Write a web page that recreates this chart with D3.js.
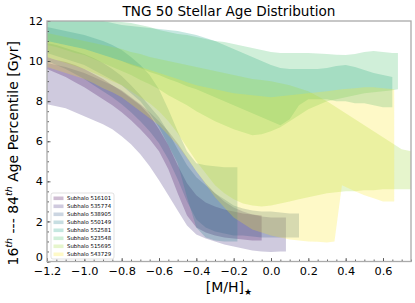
<!DOCTYPE html>
<html>
<head>
<meta charset="utf-8">
<script src="https://cdn.jsdelivr.net/npm/d3@7"></script>
<style>
body { margin: 0; background: #fff; }
svg { font-family: "DejaVu Sans", sans-serif; }
</style>
</head>
<body>
<div id="chart"></div>
<script>
// subhalo ids, in legend order
var subhalos = ["516101", "535774", "538905", "550149", "552581", "523548", "515695", "543729"];

// [M/H] bin centres for every subhalo
var mhBins = [
  [-1.2,-1.15,-1.1,-1.05,-1.0,-0.95,-0.9,-0.85,-0.8,-0.75,-0.7,-0.65,-0.6,-0.55,-0.5,-0.45,-0.4,-0.35,-0.3,-0.25,-0.2,-0.15,-0.1,-0.05],
  [-1.2,-1.15,-1.1,-1.05,-1.0,-0.95,-0.9,-0.85,-0.8,-0.75,-0.7,-0.65,-0.6,-0.55,-0.5,-0.45,-0.4,-0.35,-0.3,-0.25,-0.2,-0.15,-0.1,-0.05,0,0.05,0.08],
  [-1.2,-1.15,-1.1,-1.05,-1.0,-0.95,-0.9,-0.85,-0.8,-0.75,-0.7,-0.65,-0.6,-0.55,-0.5,-0.45,-0.4,-0.35,-0.3,-0.25,-0.2,-0.15,-0.1,-0.05,0,0.05,0.1,0.15],
  [-1.2,-1.15,-1.1,-1.05,-1.0,-0.95,-0.9,-0.85,-0.8,-0.75,-0.7,-0.65,-0.6,-0.55,-0.5,-0.45,-0.4,-0.35,-0.3,-0.25,-0.2,-0.18],
  [-1.2,-1.15,-1.1,-1.05,-1.0,-0.95,-0.9,-0.85,-0.8,-0.75,-0.7,-0.65,-0.6,-0.55,-0.5,-0.45,-0.4,-0.35,-0.3,-0.25,-0.2,-0.15,-0.1,-0.05,0,0.05,0.1,0.15,0.2,0.25,0.3,0.35,0.4,0.45,0.5,0.55,0.6,0.65],
  [-1.2,-1.15,-1.1,-1.05,-1.0,-0.95,-0.9,-0.85,-0.8,-0.75,-0.7,-0.65,-0.6,-0.55,-0.5,-0.45,-0.4,-0.35,-0.3,-0.25,-0.2,-0.15,-0.1,-0.05,0,0.05,0.1,0.15,0.2,0.25,0.3,0.35,0.4,0.45,0.5,0.55,0.6,0.65,0.68],
  [-1.2,-1.15,-1.1,-1.05,-1.0,-0.95,-0.9,-0.85,-0.8,-0.75,-0.7,-0.65,-0.6,-0.55,-0.5,-0.45,-0.4,-0.35,-0.3,-0.25,-0.2,-0.15,-0.1,-0.05,0,0.05,0.1,0.15,0.2,0.25,0.3,0.35,0.4,0.45,0.5,0.55,0.6,0.65,0.7,0.75],
  [-1.2,-1.15,-1.1,-1.05,-1.0,-0.95,-0.9,-0.85,-0.8,-0.75,-0.7,-0.65,-0.6,-0.55,-0.5,-0.45,-0.4,-0.35,-0.3,-0.25,-0.2,-0.15,-0.1,-0.05,0,0.05,0.1,0.15,0.2,0.25,0.3,0.34,0.38,0.45,0.5,0.55,0.6,0.66]
];

// 16th percentile age [Gyr]
var age16 = [
  [9.6,9.4,9.2,8.95,8.7,8.4,8.1,7.8,7.45,7.05,6.6,6.1,5.5,4.6,3.4,2.3,1.7,1.45,1.3,1.2,1.15,1.1,1.05,1.05],
  [7.85,7.75,7.65,7.45,7.25,7.05,6.85,6.6,6.25,5.85,5.35,4.75,4.05,3.3,2.55,1.8,1.35,1.15,1.0,0.85,0.75,0.65,0.55,0.5,0.48,0.5,0.5],
  [10.0,9.8,9.6,9.35,9.1,8.8,8.5,8.2,7.85,7.45,7.0,6.5,5.9,5.1,4.1,3.0,2.1,1.7,1.5,1.4,1.3,1.3,1.25,1.2,1.2,1.2,1.2,1.2],
  [10.4,10.25,10.1,9.95,9.8,9.55,9.3,9.05,8.8,8.4,8.0,7.4,6.7,5.8,4.9,3.2,1.7,1.2,1.05,1.0,1.0,1.0],
  [11.0,10.9,10.8,10.7,10.6,10.45,10.3,10.15,10.0,9.8,9.65,9.45,9.3,9.1,8.95,8.75,8.6,8.4,8.2,8.0,7.8,7.6,7.4,7.2,7.0,6.8,7.1,7.8,8.1,8.1,8.1,8.0,8.0,7.9,7.9,7.8,7.7,7.7],
  [10.8,10.7,10.55,10.4,10.3,10.1,9.9,9.7,9.5,9.3,9.05,8.85,8.6,8.3,8.05,7.8,7.5,7.25,7.0,6.8,6.6,6.45,6.3,6.35,6.5,6.7,7.0,7.3,7.6,7.8,8.0,8.1,8.2,8.3,8.4,8.45,8.5,8.55,8.6],
  [10.2,10.05,9.9,9.75,9.6,9.4,9.2,9.0,8.8,8.5,8.2,7.9,7.5,7.0,6.4,5.7,5.0,4.4,3.8,3.4,3.1,2.9,2.8,2.75,2.8,2.9,3.0,3.1,3.2,3.3,3.4,3.45,3.5,3.5,3.55,3.55,3.6,3.6,3.6,3.6],
  [9.7,9.55,9.4,9.25,9.1,8.9,8.65,8.45,8.2,7.85,7.5,7.15,6.8,6.3,5.8,5.15,4.5,3.85,3.2,2.7,2.2,1.9,1.6,1.45,1.3,1.2,1.1,1.05,1.0,0.98,0.95,1.0,3.8,3.5,3.3,3.15,3.0,3.0]
];

// 84th percentile age [Gyr]
var age84 = [
  [10.2,10.05,9.95,9.8,9.6,9.35,9.1,8.8,8.5,8.15,7.8,7.3,6.6,5.8,4.8,3.9,3.3,2.95,2.75,2.6,2.5,2.4,2.35,2.3],
  [9.9,9.8,9.7,9.55,9.4,9.2,9.0,8.8,8.55,8.2,7.85,7.45,7.0,6.5,5.9,5.2,4.5,3.9,3.4,3.0,2.7,2.5,2.35,2.25,2.2,2.2,2.2],
  [10.9,10.8,10.65,10.5,10.35,10.15,9.9,9.6,9.25,8.8,8.3,7.75,7.2,6.45,5.6,4.8,4.2,3.8,3.4,3.1,2.8,2.65,2.55,2.5,2.5,2.45,2.4,2.4],
  [11.7,11.6,11.5,11.4,11.3,11.15,11.0,10.8,10.55,10.2,9.8,9.3,8.6,7.6,6.5,5.5,4.9,4.8,4.75,4.7,4.7,4.7],
  [12,12,12,12,12,12,12,11.9,11.8,11.75,11.7,11.65,11.6,11.55,11.5,11.4,11.3,11.15,11.0,10.8,10.6,10.4,10.2,10.0,9.8,9.65,9.6,9.6,9.6,9.6,9.65,9.75,9.8,9.7,9.55,9.4,9.3,9.2],
  [12,12,12,12,12,12,12,12,11.95,11.9,11.8,11.7,11.55,11.45,11.35,11.3,11.2,11.1,11.0,10.95,10.85,10.75,10.65,10.55,10.45,10.4,10.4,10.4,10.4,10.38,10.35,10.32,10.3,10.35,10.45,10.5,10.45,10.4,10.4],
  [11.4,11.3,11.2,11.1,11.0,10.9,10.8,10.7,10.6,10.45,10.35,10.2,10.1,10.0,9.9,9.8,9.7,9.6,9.5,9.4,9.3,9.2,9.1,9.05,9.0,8.9,8.8,8.65,8.5,8.25,8.0,7.7,7.4,7.1,6.8,6.5,6.2,5.9,5.6,5.5],
  [11.0,10.9,10.8,10.7,10.6,10.45,10.3,10.15,10.0,9.85,9.7,9.55,9.4,9.25,9.1,8.95,8.8,8.7,8.6,8.5,8.4,8.35,8.3,8.25,8.2,8.25,8.3,8.35,8.4,8.45,8.5,8.55,8.6,8.65,8.7,8.7,8.65,8.6]
];

var xTicks = [-1.2, -1.0, -0.8, -0.6, -0.4, -0.2, 0.0, 0.2, 0.4, 0.6];
var yTicks = [0, 2, 4, 6, 8, 10, 12];

var W = 415, H = 303;
var margin = {top: 21, right: 4, bottom: 41.5, left: 47},
    width = W - margin.left - margin.right,
    height = H - margin.top - margin.bottom;

var svg = d3.select("#chart")
    .append("svg")
        .attr("width", W)
        .attr("height", H);

var g = svg.append("g")
    .attr("transform", "translate(" + margin.left + "," + margin.top + ")");

var x = d3.scaleLinear()
    .domain([-1.2, 0.75])
    .range([0, width]);
var y = d3.scaleLinear()
    .domain([0, 12])
    .range([height, 0]);

var color = function(i) { return d3.interpolateViridis(i / (subhalos.length - 1)); };
var alpha = 0.26;

g.append("clipPath").attr("id", "clip")
    .append("rect").attr("width", width).attr("height", height);

// bands
var area = d3.area()
    .x(function(d) { return x(d[0]); })
    .y0(function(d) { return y(d[1]); })
    .y1(function(d) { return y(d[2]); });

var bands = g.append("g").attr("clip-path", "url(#clip)");
subhalos.forEach(function(id, i) {
    var rows = mhBins[i].map(function(m, k) { return [m, age16[i][k], age84[i][k]]; });
    bands.append("path")
        .datum(rows)
        .attr("d", area)
        .attr("fill", color(i))
        .attr("fill-opacity", alpha)
        .attr("stroke", "none");
});

// axes, ticks pointing inward
var xAxis = g.append("g")
    .attr("transform", "translate(0," + height + ")")
    .call(d3.axisBottom(x).tickValues(xTicks).tickFormat(d3.format(".1f")).tickSize(-3.5).tickPadding(5));
var xMinor = g.append("g")
    .attr("transform", "translate(0," + height + ")")
    .call(d3.axisBottom(x).tickValues(d3.range(-1.2, 0.76, 0.05)).tickFormat("").tickSize(-2));
var yAxis = g.append("g")
    .call(d3.axisLeft(y).tickValues(yTicks).tickSize(-3.5).tickPadding(4));
var yMinor = g.append("g")
    .call(d3.axisLeft(y).tickValues(d3.range(0, 12.01, 0.5)).tickFormat("").tickSize(-2));

[xAxis, xMinor, yAxis, yMinor].forEach(function(a) {
    a.select(".domain").remove();
    a.selectAll("line").attr("stroke", "#444").attr("stroke-width", 0.8);
    a.selectAll("text").attr("font-family", "DejaVu Sans").attr("font-size", 11.3).attr("fill", "#000");
});
// the y "0" sits just above the first x label, as in the original
yAxis.selectAll(".tick text").filter(function(d) { return d === 0; }).attr("dy", "-0.05em");

// frame
g.append("rect")
    .attr("width", width)
    .attr("height", height)
    .attr("fill", "none")
    .attr("stroke", "#aaa")
    .attr("stroke-width", 1.3);

// title
svg.append("text")
    .attr("x", margin.left + width / 2)
    .attr("y", 16)
    .attr("text-anchor", "middle")
    .attr("font-size", 13.6)
    .text("TNG 50 Stellar Age Distribution");

// x label
var xl = svg.append("text")
    .attr("x", margin.left + width / 2)
    .attr("y", 292)
    .attr("text-anchor", "middle")
    .attr("font-size", 14);
xl.append("tspan").text("[M/H]");
xl.append("tspan").attr("font-size", 9).attr("dy", 3).text("\u2605");

// y label
var yl = svg.append("text")
    .attr("transform", "translate(18," + (margin.top + height / 2 + 12) + ") rotate(-90)")
    .attr("text-anchor", "middle")
    .attr("font-size", 14);
yl.append("tspan").text("16");
yl.append("tspan").attr("font-size", 9.5).attr("font-style", "italic").attr("dy", -6).text("th");
yl.append("tspan").attr("dy", 6).text(" --- 84");
yl.append("tspan").attr("font-size", 9.5).attr("font-style", "italic").attr("dy", -6).text("th");
yl.append("tspan").attr("dy", 6).text(" Age Percentile [Gyr]");

// legend
var lg = svg.append("g").attr("transform", "translate(51,193)");
lg.append("rect")
    .attr("width", 63)
    .attr("height", 66)
    .attr("rx", 2)
    .attr("fill", "#fff")
    .attr("fill-opacity", 0.8)
    .attr("stroke", "#ccc")
    .attr("stroke-width", 0.6);
subhalos.forEach(function(id, i) {
    var row = lg.append("g").attr("transform", "translate(0," + (5.3 + i * 8) + ")");
    row.append("rect")
        .attr("x", 2.5).attr("y", -1.8)
        .attr("width", 10).attr("height", 3.6)
        .attr("fill", color(i))
        .attr("fill-opacity", alpha);
    row.append("text")
        .attr("x", 16)
        .attr("y", 2)
        .attr("font-size", 5.4)
        .text("Subhalo " + id);
});
</script>
</body>
</html>
